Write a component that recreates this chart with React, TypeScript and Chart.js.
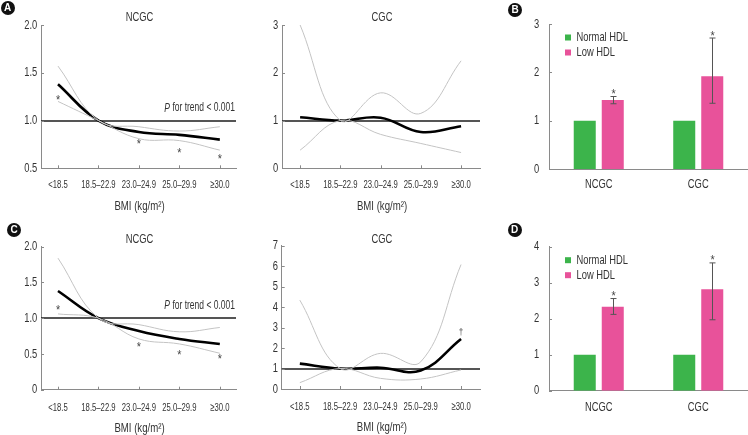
import React, { useEffect, useRef } from 'react';
import { Chart, registerables } from 'chart.js';

Chart.register(...registerables);

// ---------- data ----------
const bmiCategories = ['<18.5', '18.5–22.9', '23.0–24.9', '25.0–29.9', '≥30.0'];
const bmiAxisTitle = 'BMI (kg/m²)';
const trendLabel = ' for trend < 0.001';

// Panel A – NCGC
const aNcgcHr = [1.38, 1.0, 0.88, 0.85, 0.8];
const aNcgcUpper = [1.57, 1.0, 0.935, 0.89, 0.935];
const aNcgcLower = [1.2, 1.0, 0.81, 0.79, 0.69];
const aNcgcStarIdx = [0, 2, 3, 4];
const aNcgcStarVal = [1.24, 0.78, 0.69, 0.62];

// Panel A – CGC
const aCgcHr = [1.07, 1.0, 1.06, 0.76, 0.88];
const aCgcUpper = [3.0, 1.0, 1.58, 1.15, 2.25];
const aCgcLower = [0.38, 1.0, 0.71, 0.52, 0.33];

// Panel C – NCGC
const cNcgcHr = [1.38, 1.0, 0.82, 0.71, 0.64];
const cNcgcUpper = [1.84, 1.0, 0.91, 0.81, 0.87];
const cNcgcLower = [1.06, 1.0, 0.71, 0.64, 0.51];
const cNcgcStarIdx = [0, 2, 3, 4];
const cNcgcStarVal = [1.15, 0.63, 0.52, 0.46];

// Panel C – CGC
const cCgcHr = [1.24, 1.0, 1.04, 0.9, 2.44];
const cCgcUpper = [4.34, 1.0, 1.74, 1.33, 6.08];
const cCgcLower = [0.31, 1.0, 0.52, 0.49, 0.93];
const cCgcDaggerIdx = [4];
const cCgcDaggerVal = [2.8];

// Panels B & D – HDL
const hdlCategories = ['NCGC', 'CGC'];
const hdlSeries = ['Normal HDL', 'Low HDL'];
const bNormal = [1, 1];
const bLow = [1.43, 1.92];
const bLowCiLo = [1.35, 1.36];
const bLowCiHi = [1.5, 2.71];
const dNormal = [1, 1];
const dLow = [2.33, 2.82];
const dLowCiLo = [2.12, 1.97];
const dLowCiHi = [2.56, 3.55];

const refValue = 1;

// ---------- styles ----------
const FONT = '"Liberation Sans", Arial, sans-serif';
const TEXT = '#333333';
const AXIS = '#8a8a8a';
const CI_COLOR = '#c4c4c4';
const GREEN = '#3cb44b';
const PINK = '#e8529a';
const SX = 0.72;

function txt(ctx: any, s: string, x: number, y: number, o: any = {}) {
  const size = o.size ?? 13;
  ctx.save();
  ctx.font = `${o.italic ? 'italic ' : ''}${size}px ${FONT}`;
  ctx.textAlign = o.align ?? 'center';
  ctx.textBaseline = o.baseline ?? 'middle';
  ctx.fillStyle = o.color ?? TEXT;
  ctx.translate(x, y);
  ctx.scale(o.sx ?? SX, 1);
  ctx.fillText(s, 0, 0);
  ctx.restore();
}
function txtWidth(ctx: any, s: string, o: any = {}) {
  ctx.save();
  ctx.font = `${o.italic ? 'italic ' : ''}${o.size ?? 13}px ${FONT}`;
  const w = ctx.measureText(s).width * (o.sx ?? SX);
  ctx.restore();
  return w;
}

function makeLinePlugin(p: any) {
  return {
    id: 'linePanel',
    beforeDatasetsDraw(chart: any) {
      const { ctx, chartArea: ca, scales } = chart;
      const x = scales.x, y = scales.y;
      ctx.save();
      const ry = Math.round(y.getPixelForValue(refValue));
      ctx.strokeStyle = '#1c1c1c';
      ctx.lineWidth = 1.4;
      ctx.beginPath();
      ctx.moveTo(ca.left, ry);
      ctx.lineTo(ca.right, ry);
      ctx.stroke();
      ctx.strokeStyle = AXIS;
      ctx.lineWidth = 1;
      x.ticks.forEach((t: any) => {
        const px = Math.round(x.getPixelForValue(t.value)) + 0.5;
        ctx.beginPath();
        ctx.moveTo(px, ca.bottom);
        ctx.lineTo(px, ca.bottom - 3);
        ctx.stroke();
      });
      y.ticks.forEach((t: any) => {
        const py = Math.round(y.getPixelForValue(t.value)) + 0.5;
        ctx.beginPath();
        ctx.moveTo(ca.left, py);
        ctx.lineTo(ca.left + 3, py);
        ctx.stroke();
      });
      ctx.restore();
    },
    afterDatasetsDraw(chart: any) {
      const { ctx, chartArea: ca, scales } = chart;
      const x = scales.x, y = scales.y;
      const cx = (ca.left + ca.right) / 2 + 1;
      bmiCategories.forEach((c, i) => {
        txt(ctx, c, x.getPixelForValue(i), ca.bottom + p.xLabOff, { size: 11.5, sx: 0.67 });
      });
      y.ticks.forEach((t: any) => {
        txt(ctx, p.yFmt(t.value), ca.left - 3.7, y.getPixelForValue(t.value), { size: 13, align: 'right' });
      });
      txt(ctx, p.title, cx, ca.top - p.titleOff, { size: 13 });
      txt(ctx, bmiAxisTitle, cx, ca.bottom + 38.5, { size: 13, sx: 0.74 });
      if (p.trend) {
        const ry = y.getPixelForValue(refValue) - 12.5;
        const xr = ca.right - 1;
        const o = { size: 12.5, sx: 0.68, align: 'right' };
        txt(ctx, trendLabel, xr, ry, o);
        const w = txtWidth(ctx, trendLabel, o);
        txt(ctx, 'P', xr - w, ry, { ...o, italic: true });
      }
      (p.marks || []).forEach((m: any) => {
        txt(ctx, m.text, x.getPixelForValue(m.x), y.getPixelForValue(m.y) + (m.shift ?? 6.5), {
          size: m.size ?? 12,
          sx: 0.9,
          baseline: 'alphabetic',
          color: '#444',
        });
      });
    },
  };
}

function makeBarPlugin(p: any) {
  return {
    id: 'barPanel',
    afterDatasetsDraw(chart: any) {
      const { ctx, chartArea: ca, scales } = chart;
      const x = scales.x, y = scales.y;
      ctx.save();
      ctx.strokeStyle = AXIS;
      ctx.lineWidth = 1;
      y.ticks.forEach((t: any) => {
        const py = Math.round(y.getPixelForValue(t.value)) + 0.5;
        ctx.beginPath();
        ctx.moveTo(ca.left, py);
        ctx.lineTo(ca.left + 3, py);
        ctx.stroke();
      });
      const meta = chart.getDatasetMeta(1);
      ctx.strokeStyle = '#555';
      meta.data.forEach((bar: any, i: number) => {
        const px = Math.round(bar.x) + 0.5;
        const yl = y.getPixelForValue(p.lo[i]);
        const yh = y.getPixelForValue(p.hi[i]);
        ctx.beginPath();
        ctx.moveTo(px, yl);
        ctx.lineTo(px, yh);
        ctx.moveTo(px - 3, yl);
        ctx.lineTo(px + 3, yl);
        ctx.moveTo(px - 3, yh);
        ctx.lineTo(px + 3, yh);
        ctx.stroke();
        txt(ctx, '*', px, yh + 1.5, { size: 12, sx: 0.9, baseline: 'alphabetic', color: '#444' });
      });
      ctx.restore();
      chart.data.datasets.forEach((ds: any, i: number) => {
        const ly = ca.top + 13.5 + 15 * i;
        ctx.fillStyle = ds.backgroundColor;
        ctx.fillRect(ca.left + 16, ly - 3, 6, 6);
        txt(ctx, ds.label, ca.left + 27.5, ly, { size: 13, align: 'left' });
      });
      hdlCategories.forEach((c, i) => {
        txt(ctx, c, x.getPixelForValue(i), ca.bottom + p.xLabOff, { size: 13 });
      });
      y.ticks.forEach((t: any) => {
        txt(ctx, String(t.value), ca.left - 9.7, y.getPixelForValue(t.value), { size: 13, align: 'right' });
      });
    },
  };
}

function lineConfig(p: any) {
  const pts = (arr: number[]) => arr.map((v, i) => ({ x: i, y: v }));
  return {
    type: 'line',
    data: {
      datasets: [
        { data: pts(p.upper), borderColor: CI_COLOR, borderWidth: 1, pointRadius: 0, tension: 0.4, fill: false },
        { data: pts(p.lower), borderColor: CI_COLOR, borderWidth: 1, pointRadius: 0, tension: 0.4, fill: false },
        { data: pts(p.hr), borderColor: '#000', borderWidth: 2.6, pointRadius: 0, tension: 0.4, fill: false },
      ],
    },
    options: {
      animation: false,
      responsive: false,
      events: [],
      layout: { padding: { left: 0, top: p.top, right: p.right, bottom: 0 } },
      plugins: { legend: { display: false }, tooltip: { enabled: false } },
      scales: {
        x: {
          type: 'linear',
          min: p.xMin,
          max: p.xMax,
          afterBuildTicks: (s: any) => {
            s.ticks = bmiCategories.map((_, i) => ({ value: i }));
          },
          afterFit: (s: any) => {
            s.height = p.xHeight;
          },
          grid: { display: false, drawTicks: false },
          border: { display: true, color: AXIS, width: 1 },
          ticks: { display: false },
        },
        y: {
          min: p.yMin,
          max: p.yMax,
          afterFit: (s: any) => {
            s.width = p.yWidth;
          },
          grid: { display: false, drawTicks: false },
          border: { display: true, color: AXIS, width: 1 },
          ticks: { display: false, stepSize: p.yStep },
        },
      },
    },
    plugins: [makeLinePlugin(p)],
  };
}

function barConfig(p: any) {
  return {
    type: 'bar',
    data: {
      labels: hdlCategories,
      datasets: [
        { label: hdlSeries[0], data: p.normal, backgroundColor: GREEN, barPercentage: 0.786, categoryPercentage: 0.563 },
        { label: hdlSeries[1], data: p.low, backgroundColor: PINK, barPercentage: 0.786, categoryPercentage: 0.563 },
      ],
    },
    options: {
      animation: false,
      responsive: false,
      events: [],
      layout: { padding: { left: 0, top: p.top, right: 0, bottom: 0 } },
      plugins: { legend: { display: false }, tooltip: { enabled: false } },
      scales: {
        x: {
          afterFit: (s: any) => {
            s.height = p.xHeight;
          },
          grid: { display: false, drawTicks: false },
          border: { display: true, color: AXIS, width: 1 },
          ticks: { display: false },
        },
        y: {
          min: 0,
          max: p.yMax,
          afterFit: (s: any) => {
            s.width = 49;
          },
          grid: { display: false, drawTicks: false },
          border: { display: true, color: AXIS, width: 1 },
          ticks: { display: false, stepSize: 1 },
        },
      },
    },
    plugins: [makeBarPlugin(p)],
  };
}

const fmt1 = (v: number) => v.toFixed(1);
const fmt0or1 = (v: number) => (v === 0 ? '0' : v.toFixed(1));
const fmtInt = (v: number) => String(v);

const stars = (idx: number[], vals: number[]) => idx.map((x, i) => ({ x, y: vals[i], text: '*' }));

const panels = [
  {
    left: 0, top: 0, w: 250, h: 215,
    cfg: () => lineConfig({
      title: 'NCGC', trend: true, hr: aNcgcHr, upper: aNcgcUpper, lower: aNcgcLower,
      marks: stars(aNcgcStarIdx, aNcgcStarVal),
      top: 25, right: 14, xHeight: 46.7, xLabOff: 16.7, titleOff: 7.5, yWidth: 41, xMin: -0.42, xMax: 4.4,
      yMin: 0.5, yMax: 2.0, yStep: 0.5, yFmt: fmt1,
    }),
  },
  {
    left: 250, top: 0, w: 250, h: 215,
    cfg: () => lineConfig({
      title: 'CGC', trend: false, hr: aCgcHr, upper: aCgcUpper, lower: aCgcLower, marks: [],
      top: 25, right: 20, xHeight: 46.7, xLabOff: 16.7, titleOff: 7.5, yWidth: 32, xMin: -0.45, xMax: 4.47,
      yMin: 0, yMax: 3, yStep: 1, yFmt: fmtInt,
    }),
  },
  {
    left: 500, top: 0, w: 248, h: 215,
    cfg: () => barConfig({ normal: bNormal, low: bLow, lo: bLowCiLo, hi: bLowCiHi, top: 24, xHeight: 46, xLabOff: 15.7, yMax: 3 }),
  },
  {
    left: 0, top: 215, w: 250, h: 220,
    cfg: () => lineConfig({
      title: 'NCGC', trend: true, hr: cNcgcHr, upper: cNcgcUpper, lower: cNcgcLower,
      marks: stars(cNcgcStarIdx, cNcgcStarVal),
      top: 31.7, right: 14, xHeight: 45.3, xLabOff: 18, titleOff: 7.2, yWidth: 41, xMin: -0.42, xMax: 4.4,
      yMin: 0, yMax: 2.0, yStep: 0.5, yFmt: fmt0or1,
    }),
  },
  {
    left: 250, top: 215, w: 250, h: 220,
    cfg: () => lineConfig({
      title: 'CGC', trend: false, hr: cCgcHr, upper: cCgcUpper, lower: cCgcLower,
      marks: cCgcDaggerIdx.map((x, i) => ({ x, y: cCgcDaggerVal[i], text: '†', size: 9, shift: 3 })),
      top: 30.7, right: 20, xHeight: 46, xLabOff: 18, titleOff: 6.5, yWidth: 31.7, xMin: -0.45, xMax: 4.47,
      yMin: 0, yMax: 7, yStep: 1, yFmt: fmtInt,
    }),
  },
  {
    left: 500, top: 215, w: 248, h: 220,
    cfg: () => barConfig({ normal: dNormal, low: dLow, lo: dLowCiLo, hi: dLowCiHi, top: 31.7, xHeight: 44.3, xLabOff: 16.8, yMax: 4 }),
  },
];

const letters = [
  { t: 'A', left: 0.5, top: 0.5 },
  { t: 'B', left: 508, top: 3 },
  { t: 'C', left: 7, top: 223 },
  { t: 'D', left: 507.5, top: 223 },
];

function Panel({ p }: { p: any }) {
  const ref = useRef<HTMLCanvasElement | null>(null);
  useEffect(() => {
    if (!ref.current) return;
    const chart = new Chart(ref.current, p.cfg() as any);
    return () => chart.destroy();
  }, [p]);
  return (
    <canvas
      ref={ref}
      width={p.w}
      height={p.h}
      style={{ position: 'absolute', left: p.left, top: p.top, width: p.w, height: p.h }}
    />
  );
}

export default function App() {
  useEffect(() => {
    document.body.style.margin = '0';
    document.body.style.background = '#fff';
  }, []);
  return (
    <div style={{ position: 'absolute', left: 0, top: 0, width: 748, height: 435, background: '#fff', overflow: 'hidden' }}>
      {panels.map((p, i) => (
        <Panel key={i} p={p} />
      ))}
      {letters.map((l) => (
        <div
          key={l.t}
          style={{
            position: 'absolute', left: l.left, top: l.top, width: 14, height: 14, borderRadius: '50%',
            background: '#111', color: '#fff', fontFamily: '"Liberation Sans", Arial, sans-serif', fontWeight: 'bold',
            fontSize: 10, lineHeight: '14px', textAlign: 'center',
          }}
        >
          {l.t}
        </div>
      ))}
    </div>
  );
}
